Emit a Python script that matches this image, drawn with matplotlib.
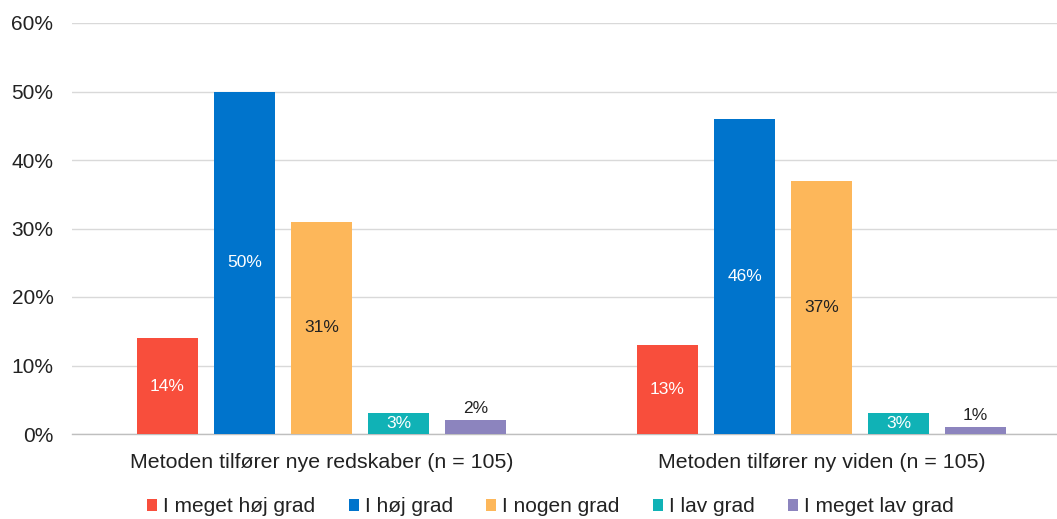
import numpy as np
import matplotlib.pyplot as plt

plt.rcParams['font.family'] = ['Liberation Sans', 'DejaVu Sans']

# Data
kategorier = ["Metoden tilfører nye redskaber (n = 105)", "Metoden tilfører ny viden (n = 105)"]
svar = ["I meget høj grad", "I høj grad", "I nogen grad", "I lav grad", "I meget lav grad"]
vaerdier = {
    "I meget høj grad": [14, 13],
    "I høj grad": [50, 46],
    "I nogen grad": [31, 37],
    "I lav grad": [3, 3],
    "I meget lav grad": [2, 1],
}
farver = ["#F84E3C", "#0074CC", "#FDB75A", "#10B2B6", "#8C84BE"]
tekstfarver = ["white", "white", "#222222", "white", "#222222"]

fig = plt.figure(figsize=(10.57, 5.19), dpi=100)
ax = fig.add_axes([71.5 / 1057, 85 / 519, 1000 / 1057, 411 / 519])

x = np.arange(len(kategorier))
bredde = 0.122
afstand = 0.154

for i, s in enumerate(svar):
    pos = x + (i - 2) * afstand
    vals = vaerdier[s]
    ax.bar(pos, vals, width=bredde, color=farver[i], label=s, zorder=3)
    for p, v in zip(pos, vals):
        if v >= 3:
            ax.text(p, v / 2, f"{v}%", ha="center", va="center",
                    color=tekstfarver[i], fontsize=12.5, zorder=4)
        else:
            # smaa vaerdier over soejlen
            ax.text(p, v + 0.6, f"{v}%", ha="center", va="bottom",
                    color=tekstfarver[i], fontsize=12.5, zorder=4)

ax.set_xlim(-0.5, 1.5)
ax.set_ylim(0, 60)
ax.set_yticks(range(0, 61, 10))
ax.set_yticklabels([f"{t}%" for t in range(0, 61, 10)], fontsize=15, color="#222222")
ax.set_xticks(x)
ax.set_xticklabels(kategorier, fontsize=15.4, color="#222222")
ax.tick_params(axis="y", length=0, pad=13)
ax.tick_params(axis="x", length=0, pad=14)
ax.grid(axis="y", color="#D9D9D9", linewidth=1, zorder=0)
for side in ["top", "right", "left"]:
    ax.spines[side].set_visible(False)
ax.spines["bottom"].set_color("#BFBFBF")
ax.spines["bottom"].set_linewidth(1)

fig.legend(loc="center", bbox_to_anchor=(550.5 / 1057, 12 / 519), ncol=5, frameon=False,
           fontsize=15, handlelength=0.48, handleheight=0.48, handletextpad=0.29,
           columnspacing=1.6, labelcolor="#222222", borderpad=0)

fig.savefig("out.png", dpi=100)
